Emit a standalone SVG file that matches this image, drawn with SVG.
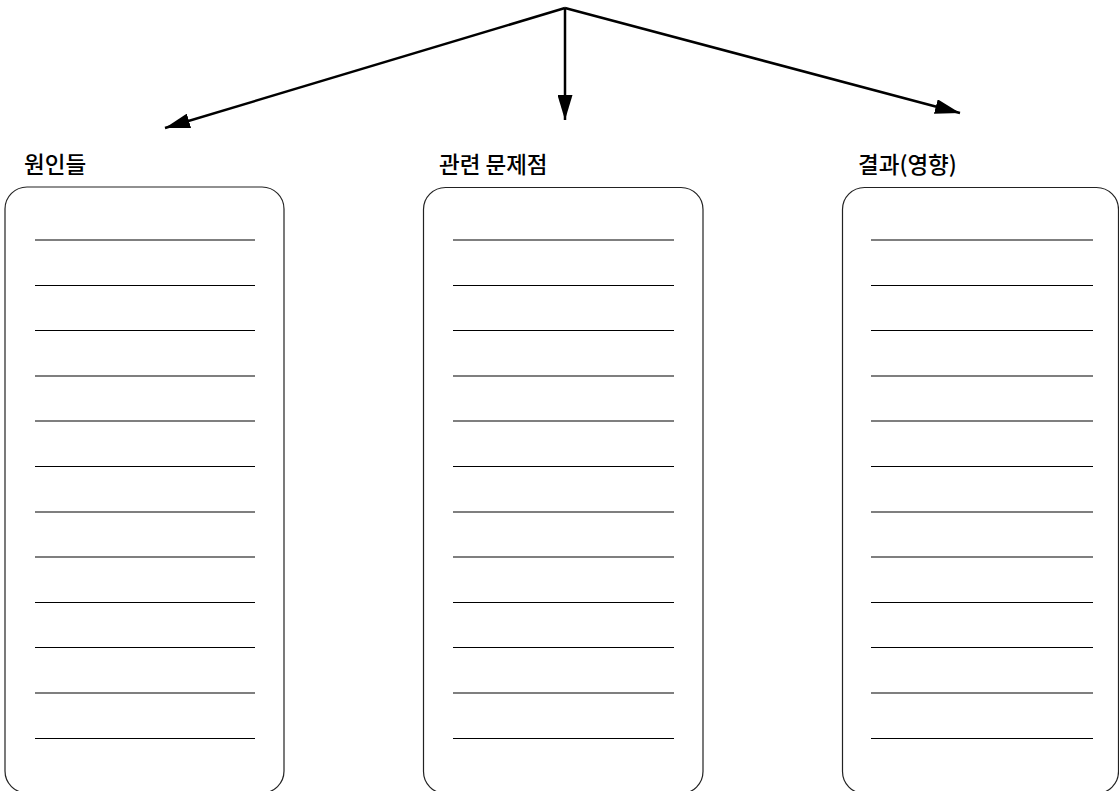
<svg xmlns="http://www.w3.org/2000/svg" width="1119" height="791" viewBox="0 0 1119 791">
<defs>
<marker id="ah" viewBox="0 0 25 15" refX="25" refY="7.5" markerWidth="10" markerHeight="6" markerUnits="strokeWidth" orient="auto">
<path d="M0,0 L25,7.5 L0,15 z" fill="#000"/>
</marker>
<style>
.box{fill:#fff;stroke:#222;stroke-width:1.2}
.ln{stroke:#000;stroke-width:1.2}
.lbl{font-family:"Noto Sans CJK KR","Noto Sans",sans-serif;font-size:22.5px;font-weight:500;fill:#000}
.conn{stroke:#000;stroke-width:2.5;fill:none;marker-end:url(#ah)}
</style>
</defs>
<rect width="1119" height="791" fill="#fff"/>
<g id="connectors">
<line class="conn" x1="565" y1="8" x2="165" y2="128"/>
<line class="conn" x1="565" y1="8" x2="565" y2="120"/>
<line class="conn" x1="565" y1="8" x2="960" y2="113"/>
</g>
<g id="causes">
<text class="lbl" x="24" y="173">원인들</text>
<rect class="box" x="5" y="187" width="279" height="606" rx="22"/>
<g class="ln">
<line x1="35" y1="240" x2="255" y2="240"/><line x1="35" y1="285.5" x2="255" y2="285.5"/><line x1="35" y1="330.5" x2="255" y2="330.5"/><line x1="35" y1="376" x2="255" y2="376"/><line x1="35" y1="421" x2="255" y2="421"/><line x1="35" y1="466.5" x2="255" y2="466.5"/><line x1="35" y1="512" x2="255" y2="512"/><line x1="35" y1="557" x2="255" y2="557"/><line x1="35" y1="602.5" x2="255" y2="602.5"/><line x1="35" y1="647.5" x2="255" y2="647.5"/><line x1="35" y1="693" x2="255" y2="693"/><line x1="35" y1="738.5" x2="255" y2="738.5"/>
</g>
</g>
<g id="problems">
<text class="lbl" x="439" y="173">관련 문제점</text>
<rect class="box" x="423.5" y="187.5" width="279.5" height="606" rx="22"/>
<g class="ln">
<line x1="453" y1="240" x2="674" y2="240"/><line x1="453" y1="285.5" x2="674" y2="285.5"/><line x1="453" y1="330.5" x2="674" y2="330.5"/><line x1="453" y1="376" x2="674" y2="376"/><line x1="453" y1="421" x2="674" y2="421"/><line x1="453" y1="466.5" x2="674" y2="466.5"/><line x1="453" y1="512" x2="674" y2="512"/><line x1="453" y1="557" x2="674" y2="557"/><line x1="453" y1="602.5" x2="674" y2="602.5"/><line x1="453" y1="647.5" x2="674" y2="647.5"/><line x1="453" y1="693" x2="674" y2="693"/><line x1="453" y1="738.5" x2="674" y2="738.5"/>
</g>
</g>
<g id="effects">
<text class="lbl" x="858" y="173">결과(영향)</text>
<rect class="box" x="842.5" y="187.5" width="276" height="606" rx="22"/>
<g class="ln">
<line x1="871" y1="240" x2="1093" y2="240"/><line x1="871" y1="285.5" x2="1093" y2="285.5"/><line x1="871" y1="330.5" x2="1093" y2="330.5"/><line x1="871" y1="376" x2="1093" y2="376"/><line x1="871" y1="421" x2="1093" y2="421"/><line x1="871" y1="466.5" x2="1093" y2="466.5"/><line x1="871" y1="512" x2="1093" y2="512"/><line x1="871" y1="557" x2="1093" y2="557"/><line x1="871" y1="602.5" x2="1093" y2="602.5"/><line x1="871" y1="647.5" x2="1093" y2="647.5"/><line x1="871" y1="693" x2="1093" y2="693"/><line x1="871" y1="738.5" x2="1093" y2="738.5"/>
</g>
</g>
</svg>
